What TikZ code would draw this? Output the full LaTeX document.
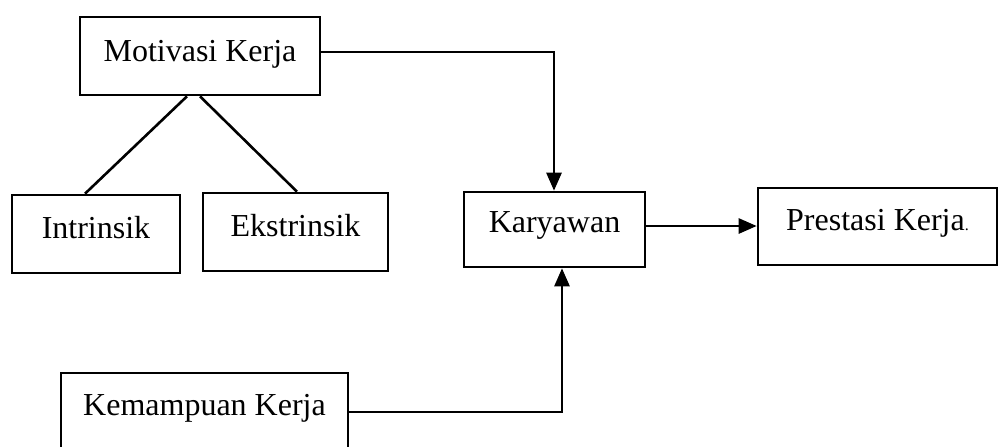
\documentclass[tikz,border=0pt]{standalone}
\usepackage{fontspec}
\setmainfont{Liberation Serif}
\usetikzlibrary{arrows.meta}
\begin{document}
\begin{tikzpicture}[x=0.5pt,y=-0.5pt,
  box/.style={draw,line width=1.3pt,inner sep=0pt,anchor=base,
    font=\fontsize{16}{19}\selectfont},
  conn/.style={line width=1.3pt},
  arr/.style={line width=1.3pt,-{Triangle[length=9pt,width=7.5pt]}}]
\clip (0,0) rectangle (1001,446);
\fill[white] (0,0) rectangle (1001,446);
\node[box,minimum width=120pt,text height=22pt,text depth=17pt] (m) at (200,61) {Motivasi Kerja};
\node[box,minimum width=84pt,text height=21.5pt,text depth=17.5pt] (i) at (96,238) {Intrinsik};
\node[box,minimum width=92.5pt,text height=21.5pt,text depth=17.5pt] (e) at (295.5,236) {Ekstrinsik};
\node[box,minimum width=143.5pt,text height=21pt,text depth=22.5pt] (km) at (204.5,415) {Kemampuan Kerja};
\node[box,minimum width=90.5pt,text height=20pt,text depth=17.5pt] (k) at (554.5,232) {Karyawan};
\node[box,minimum width=119.5pt,text height=21pt,text depth=17.5pt] (p) at (877.5,230) {Prestasi Kerja{\fontsize{8}{8}\selectfont .}};
\coordinate (c1) at (554,52);
\coordinate (c2) at (0,226);
\coordinate (c3) at (562,412);
\coordinate (a1) at (187,0);
\coordinate (a2) at (85,0);
\coordinate (b1) at (200,0);
\coordinate (b2) at (297,0);
\draw[arr] (m.east |- c1) -- (c1) -- (k.north -| c1);
\draw[arr] (k.east |- c2) -- (p.west |- c2);
\draw[arr] (km.east |- c3) -- (c3) -- (k.south -| c3);
\draw[conn] (m.south -| a1) -- (i.north -| a2);
\draw[conn] (m.south -| b1) -- (e.north -| b2);
\end{tikzpicture}
\end{document}
